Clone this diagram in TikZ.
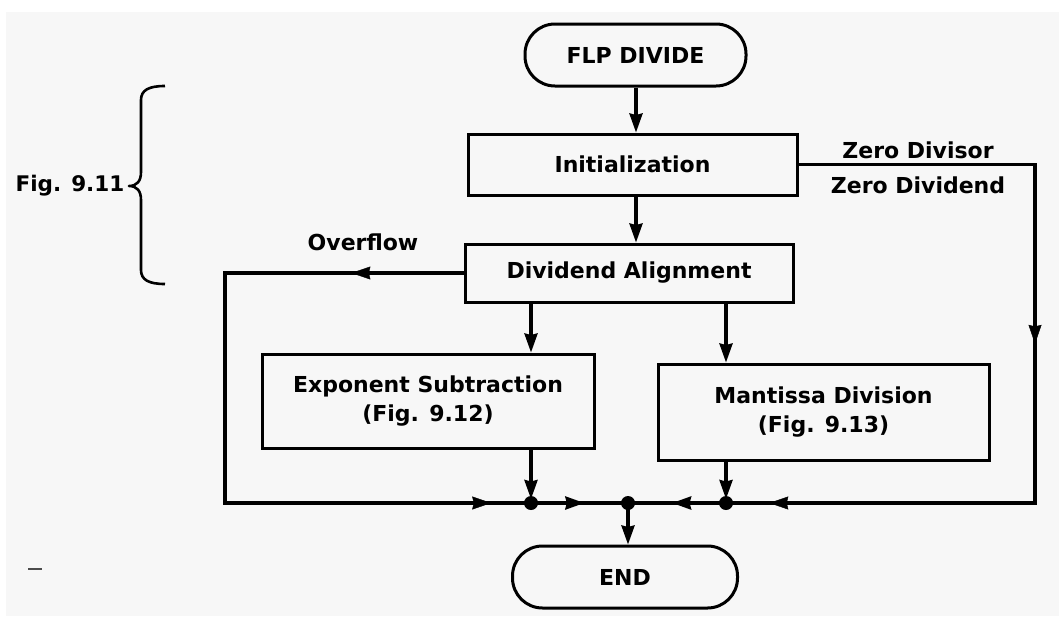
\documentclass[tikz,border=0pt]{standalone}
\usepackage{fontspec}
\setmainfont{DejaVu Sans}
\usetikzlibrary{arrows.meta,decorations.markings}
\begin{document}
\begin{tikzpicture}[x=1pt,y=-1pt,
  every node/.style={font=\fontsize{22}{29}\selectfont\bfseries},
  box/.style={draw, line width=3pt, rectangle, align=center, inner sep=0pt},
  term/.style={draw, line width=3pt, rounded corners=30pt, inner sep=0pt},
  flow/.style={line width=3.2pt},
  tip/.style={line width=3.2pt, -{Stealth[length=19pt,width=13pt,inset=1.5pt]}},
  midtip/.style={postaction={decorate},
    decoration={markings, mark=at position #1 with {\arrow{Stealth[length=19pt,width=13pt,inset=1.5pt]}}}},
  dot/.style={circle, fill, inner sep=0pt, minimum size=14pt},
  lbl/.style={inner sep=0pt}]
% page
\fill[white] (0,0) rectangle (1059,616);
\fill[gray!6] (6,12) rectangle (1059,616);
\useasboundingbox (0,0) rectangle (1059,616);

% steps
\node[term, minimum width=221pt, minimum height=62pt] (start) at (635.5,55) {FLP DIVIDE};
\node[box, minimum width=329pt, minimum height=61pt] (init) at (632.5,164.5) {Initialization};
\node[box, minimum width=328pt, minimum height=58pt] (align) at (629,273) {Dividend Alignment};
\node[box, minimum width=332pt, minimum height=94pt] (exps) at (428,401) {Exponent Subtraction\\(Fig. 9.12)};
\node[box, minimum width=331pt, minimum height=96pt] (mant) at (823.5,412) {Mantissa Division\\(Fig. 9.13)};
\node[term, minimum width=225pt, minimum height=62pt] (end) at (625,577) {END};

% routing points
\coordinate (jl) at (531,503);
\coordinate (jm) at (628,503);
\coordinate (jr) at (726,503);
\coordinate (zcol) at (1035,0);
\coordinate (ocol) at (225,0);
\coordinate (scol) at (636,0);

% main flow
\draw[tip] (start.south -| scol) -- (init.north -| scol);
\draw[tip] (init.south -| scol) -- (align.north -| scol);
\draw[tip] (align.south -| jl) -- (exps.north -| jl);
\draw[tip] (align.south -| jr) -- (mant.north -| jr);
\draw[tip, shorten >=4pt] (exps.south -| jl) -- (jl);
\draw[tip, shorten >=4pt] (mant.south -| jr) -- (jr);
\draw[flow, midtip=0.55] (jl) -- (jm);
\draw[flow, midtip=0.55] (jr) -- (jm);
\draw[tip] (jm) -- (end.north -| jm);

% overflow exit
\draw[flow] (align.west) -- (align.west -| ocol) -- (ocol |- jl) -- (jl);
\path[midtip=0.47] (align.west) -- (align.west -| ocol);
\path[midtip=0.87] (ocol |- jl) -- (jl);

% zero divisor / zero dividend exit
\draw[flow] (init.east) -- (init.east -| zcol) -- (zcol |- jr) -- (jr);
\path[midtip=0.53] (init.east -| zcol) -- (zcol |- jr);
\path[midtip=0.86] (zcol |- jr) -- (jr);

% junctions
\node[dot] (dl) at (jl) {};
\node[dot] (dm) at (jm) {};
\node[dot] (dr) at (jr) {};

% labels
\node[lbl] (zdv) at (918,150) {Zero Divisor};
\node[lbl] (zdd) at (918,185) {Zero Dividend};
\node[lbl] (ovf) at (363,242) {Overflow};
\node[lbl, font=\fontsize{21.5}{26}\selectfont\bfseries] (fig) at (70,186) {Fig. 9.11};

% brace grouping the first steps
\draw[line width=2.6pt, line join=round]
  (165,86) .. controls (149,86) and (141,90) .. (141,100) -- (141,172)
  .. controls (141,181) and (137,186) .. (129,186)
  .. controls (137,186) and (141,191) .. (141,200) -- (141,270)
  .. controls (141,280) and (149,284) .. (165,284);

% margin mark
\draw[line width=1.5pt, gray!60!black] (28,569) -- (42,569);
\end{tikzpicture}
\end{document}
